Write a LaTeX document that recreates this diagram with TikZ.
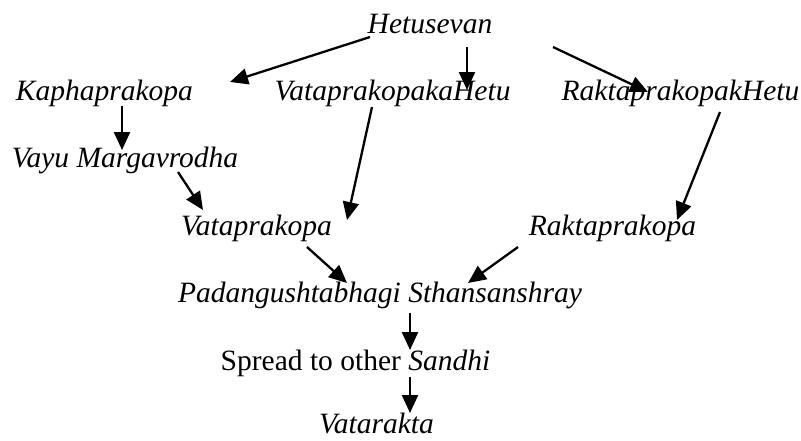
\documentclass[tikz,border=0pt]{standalone}
\usepackage{fontspec}
\setmainfont{Liberation Serif}
\usetikzlibrary{arrows.meta}
\begin{document}
\begin{tikzpicture}[x=1pt,y=-1pt,
  lbl/.style={anchor=base,inner sep=0pt,font=\fontsize{29.5}{34}\selectfont\itshape},
  arr/.style={line width=2.3pt,-{Triangle[length=18pt,width=16pt]}}]
\useasboundingbox (0,0) rectangle (801,440);
\node[lbl] (hetu) at (430,33) {Hetusevan};
\node[lbl] (kapha) at (104.5,100) {Kaphaprakopa};
\node[lbl] (vhetu) at (392.5,100) {VataprakopakaHetu};
\node[lbl] (rhetu) at (680.5,100) {RaktaprakopakHetu};
\node[lbl] (vayu) at (125,167) {Vayu Margavrodha};
\node[lbl] (vata) at (256.5,235) {Vataprakopa};
\node[lbl] (rakta) at (612.5,235) {Raktaprakopa};
\node[lbl] (pada) at (380,302) {Padangushtabhagi Sthansanshray};
\node[lbl,font=\fontsize{29.5}{34}\selectfont] (spread) at (355.5,370) {Spread to other \textit{Sandhi}};
\node[lbl] (vatarakta) at (376.5,433) {Vatarakta};
\draw[arr] ([shift={(-60,4)}]hetu.base) -- ([shift={(125.5,-18)}]kapha.base);
\draw[arr] ([shift={(37,14)}]hetu.base) -- ([shift={(74.5,-10)}]vhetu.base);
\draw[arr] ([shift={(123,14)}]hetu.base) -- ([shift={(-32.5,-8)}]rhetu.base);
\draw[arr] ([shift={(17.5,6)}]kapha.base) -- ([shift={(17.5,-17)}]kapha.base |- vayu.base);
\draw[arr] ([shift={(53,5)}]vayu.base) -- ([shift={(-53.5,-25)}]vata.base);
\draw[arr] ([shift={(-20.5,7)}]vhetu.base) -- ([shift={(90.5,-15)}]vata.base);
\draw[arr] ([shift={(39.5,12)}]rhetu.base) -- ([shift={(64.5,-15)}]rakta.base);
\draw[arr] ([shift={(50.5,12)}]vata.base) -- ([shift={(-33,-19)}]pada.base);
\draw[arr] ([shift={(-94.5,12)}]rakta.base) -- ([shift={(88,-19)}]pada.base);
\draw[arr] ([shift={(30,11)}]pada.base) -- ([shift={(30,-20)}]pada.base |- spread.base);
\draw[arr] ([shift={(30,7)}]pada.base |- spread.base) -- ([shift={(30,-20)}]pada.base |- vatarakta.base);
\end{tikzpicture}
\end{document}
